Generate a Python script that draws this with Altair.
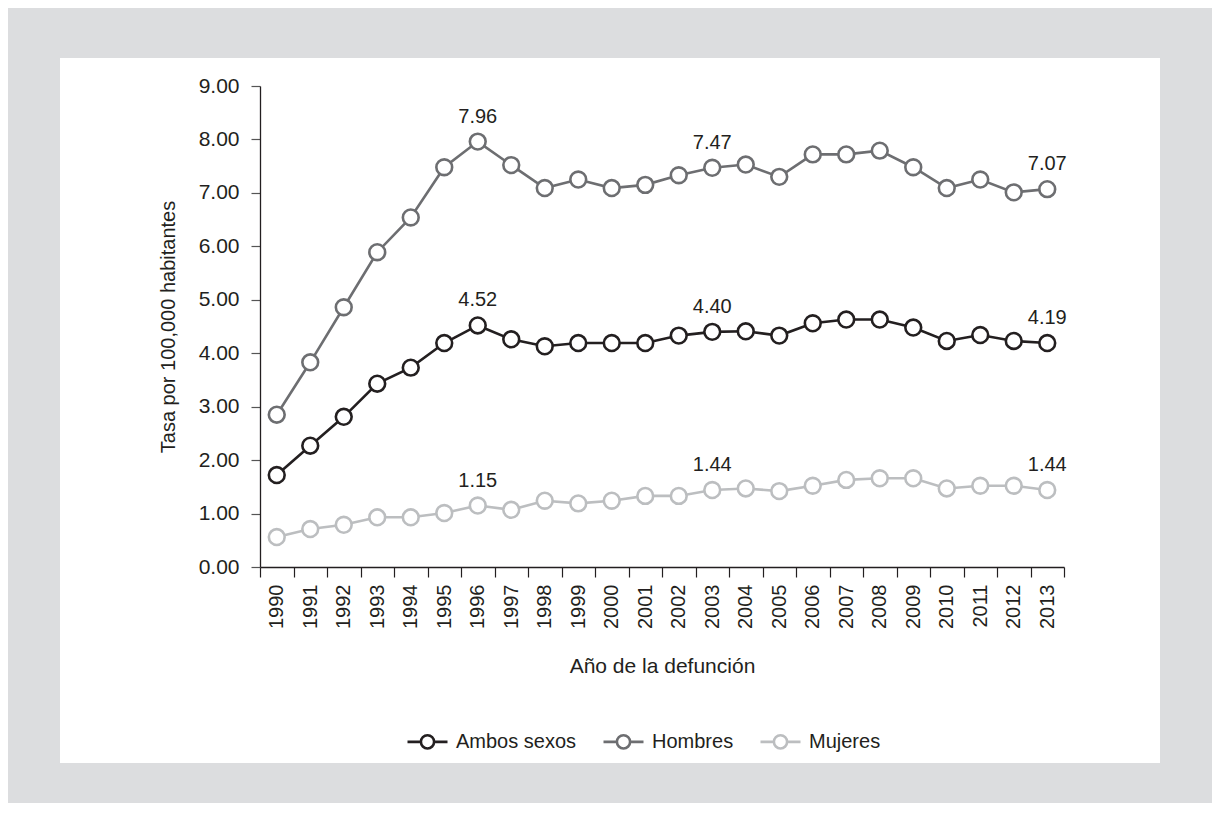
import altair as alt
import pandas as pd

years = list(range(1990, 2014))
series = ["Ambos sexos", "Hombres", "Mujeres"]
ambos = [1.72, 2.27, 2.81, 3.43, 3.73, 4.19, 4.52, 4.26, 4.13, 4.19, 4.19, 4.19,
         4.33, 4.40, 4.41, 4.33, 4.56, 4.63, 4.63, 4.48, 4.23, 4.34, 4.23, 4.19]
hombres = [2.85, 3.83, 4.86, 5.89, 6.54, 7.48, 7.96, 7.52, 7.09, 7.25, 7.09, 7.15,
           7.33, 7.47, 7.53, 7.30, 7.72, 7.72, 7.79, 7.48, 7.09, 7.25, 7.01, 7.07]
mujeres = [0.56, 0.71, 0.79, 0.93, 0.93, 1.01, 1.15, 1.07, 1.24, 1.19, 1.24, 1.33,
           1.33, 1.44, 1.47, 1.42, 1.52, 1.63, 1.66, 1.66, 1.47, 1.52, 1.52, 1.44]
label_years = [1996, 2003, 2013]
y_ticks = [0, 1, 2, 3, 4, 5, 6, 7, 8, 9]
colors = ["#231f20", "#6d6e71", "#bcbec0"]

rows = []
for name, vals in zip(series, [ambos, hombres, mujeres]):
    for yr, v in zip(years, vals):
        rows.append({"year": yr, "serie": name, "valor": v})
df = pd.DataFrame(rows)

FONT = "Liberation Sans"
TXT = "#231f20"

color_scale = alt.Scale(domain=series, range=colors)
x_enc = alt.X(
    "year:O",
    scale=alt.Scale(type="band", paddingInner=0, paddingOuter=0),
    axis=alt.Axis(
        title="Año de la defunción",
        labelAngle=270,
        tickBand="extent",
        tickSize=10,
        labelPadding=7,
        labelFontSize=20,
        titleFontSize=21,
        titlePadding=27,
        titleFontWeight="normal",
        domainColor=TXT,
        tickColor=TXT,
        labelColor=TXT,
        titleColor=TXT,
        domainWidth=1.3,
        tickWidth=1.2,
        zindex=1,
    ),
)
y_enc = alt.Y(
    "valor:Q",
    scale=alt.Scale(domain=[0, 9], nice=False),
    axis=alt.Axis(
        title="Tasa por 100,000 habitantes",
        values=y_ticks,
        format=".2f",
        grid=False,
        tickSize=9,
        labelPadding=12,
        labelFontSize=21,
        titleFontSize=20,
        titlePadding=20,
        titleFontWeight="normal",
        domainColor=TXT,
        tickColor="#555555",
        labelColor=TXT,
        titleColor=TXT,
        domainWidth=1.3,
        tickWidth=1.2,
        zindex=1,
    ),
)

legend_path = ("M-1,0H-0.33M0.33,0H1"
               "M-0.33,0A0.33,0.33,0,1,1,0.33,0A0.33,0.33,0,1,1,-0.33,0Z")

base = alt.Chart(df)

panel = alt.Chart(pd.DataFrame({"p": [0]})).mark_rect(color="white").encode(
    x=alt.value(-200), x2=alt.value(900), y=alt.value(-28), y2=alt.value(677)
)

lines = base.mark_line(strokeWidth=2.6).encode(
    x=x_enc,
    y=y_enc,
    stroke=alt.Stroke(
        "serie:N",
        scale=color_scale,
        legend=alt.Legend(
            orient="none",
            legendX=146,
            legendY=634,
            direction="horizontal",
            title=None,
            symbolType=legend_path,
            symbolSize=1600,
            symbolStrokeWidth=2.6,
            symbolFillColor="white",
            labelFontSize=20,
            labelFont=FONT,
            labelColor=TXT,
            labelOffset=7,
            columnPadding=21,
        ),
    ),
    detail="serie:N",
)

points = base.mark_point(
    shape="circle", fill="white", fillOpacity=1, opacity=1, strokeWidth=2.6, size=250
).encode(
    x=x_enc,
    y=y_enc,
    stroke=alt.Stroke("serie:N", scale=color_scale, legend=None),
)

labels = base.transform_filter(
    alt.FieldOneOfPredicate(field="year", oneOf=label_years)
).mark_text(fontSize=20, color=TXT, dy=-25, baseline="middle", font=FONT).encode(
    x=x_enc,
    y=y_enc,
    text=alt.Text("valor:Q", format=".2f"),
)

chart = alt.layer(panel, lines, points, labels).properties(
    width=804,
    height=481,
    padding={"left": 252, "top": 78, "right": 148, "bottom": 236},
    autosize=alt.AutoSizeParams(type="none"),
).configure(
    background="#dcdddf", font=FONT
).configure_view(strokeWidth=0).configure_axis(labelFont=FONT, titleFont=FONT)

chart.save("out.html", embed_options={"renderer": "svg", "actions": False})
